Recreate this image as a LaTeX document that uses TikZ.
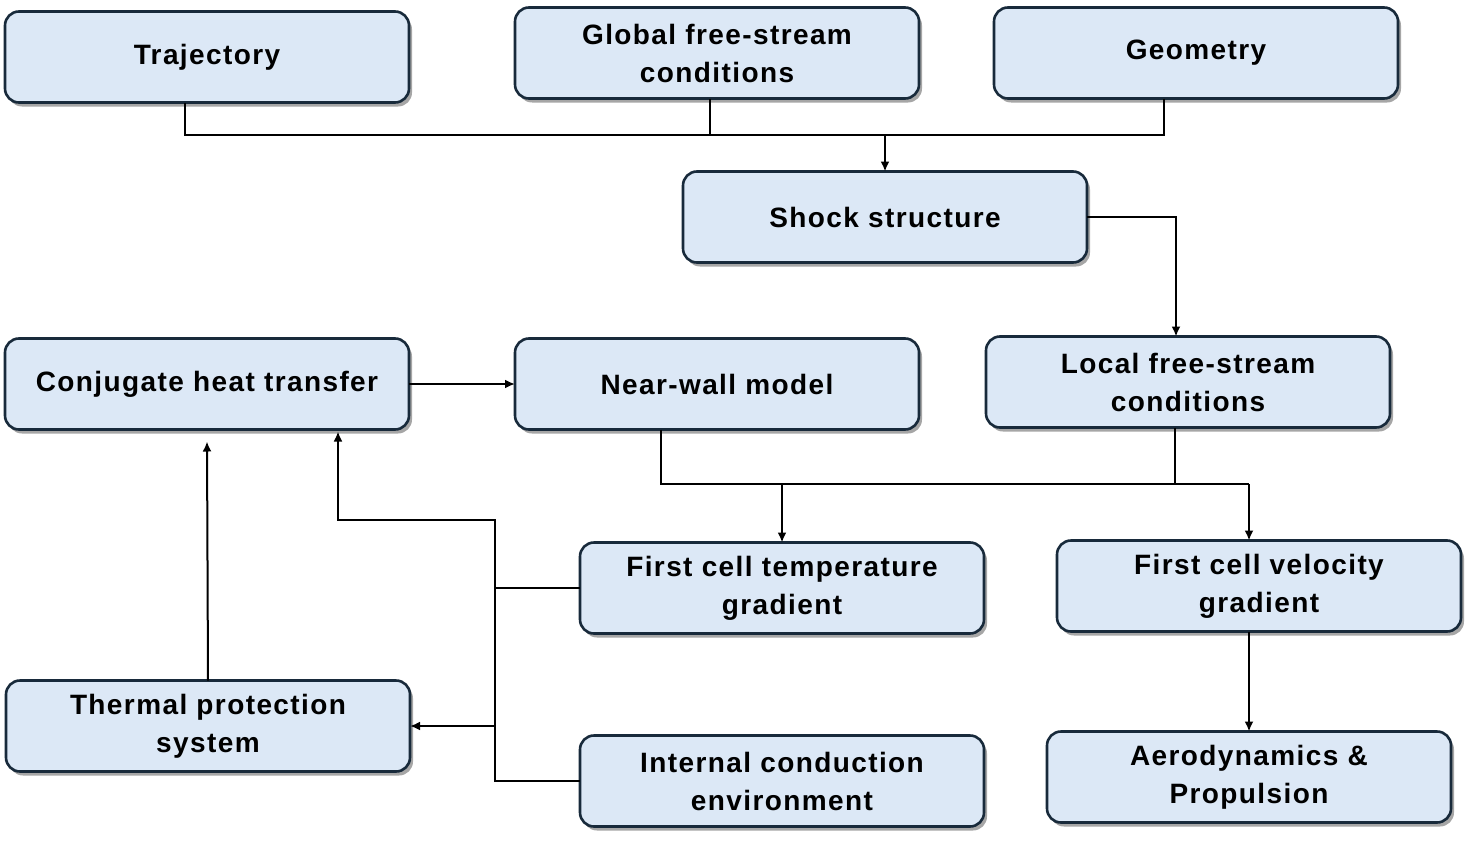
\documentclass[tikz,border=0pt]{standalone}
\usepackage{fontspec}
\setmainfont{Liberation Sans}
\newfontfamily\boxfont[LetterSpace=5]{Liberation Sans}
\usetikzlibrary{arrows.meta,shadows}
\definecolor{boxfill}{HTML}{DCE8F6}
\definecolor{boxline}{HTML}{182A3B}
\begin{document}
\begin{tikzpicture}[x=1pt,y=-1pt,
  box/.style={draw=boxline, line width=2.6pt, fill=boxfill, rounded corners=14pt,
    minimum width=404pt, minimum height=91pt, align=center, outer sep=0pt,
    font=\boxfont\fontsize{28}{38}\selectfont\bfseries,
    drop shadow={shadow xshift=3pt, shadow yshift=-4pt, fill=black, opacity=0.35}},
  conn/.style={line width=2pt, draw=black},
  arr/.style={conn, -{Latex[length=10pt,width=9pt]}}]
\useasboundingbox (0,0) rectangle (1474,851);
\node[box] (traj) at (207,57) {Trajectory};
\node[box] (glob) at (717,53) {Global free-stream\\conditions};
\node[box] (geom) at (1196,53) {Geometry};
\node[box] (shock) at (885,217) {Shock structure};
\node[box] (conj) at (207,384) {Conjugate heat transfer};
\node[box] (near) at (717,384) {Near-wall model};
\node[box] (local) at (1188,382) {Local free-stream\\conditions};
\node[box] (fct) at (782,588) {First cell temperature\\gradient};
\node[box] (fcv) at (1259,586) {First cell velocity\\gradient};
\node[box] (therm) at (208,726) {Thermal protection\\system};
\node[box] (icond) at (782,781) {Internal conduction\\environment};
\node[box] (aero) at (1249,777) {Aerodynamics \&\\Propulsion};
% top junction
\coordinate (j1) at (710,135);
\draw[conn] ([xshift=-22pt]traj.south) |- (j1);
\draw[conn] ([xshift=-7pt]glob.south) -- (j1);
\draw[conn] ([xshift=-32pt]geom.south) |- (j1);
\draw[arr] (j1 -| shock.north) -- (shock.north);
\draw[arr] (shock.east) -| ([xshift=-12pt]local.north);
\draw[arr] (conj.east) -- (near.west);
% middle junction
\coordinate (j2) at (1249,484);
\draw[conn] ([xshift=-56pt]near.south) |- (j2);
\draw[conn] ([xshift=-13pt]local.south) |- (j2);
\draw[arr] (j2) -- (fcv.north -| j2);
\draw[arr] (j2 -| fct.north) -- (fct.north);
% left bus
\coordinate (b1) at (495,520);
\coordinate (b2) at (495,782);
\draw[conn] (fct.west) -- (fct.west -| b1);
\draw[conn] (icond.west -| b2) -- (icond.west);
\draw[arr] (b2) -- (b1) -| ([xshift=131pt,yshift=-2pt]conj.south);
\draw[arr] (therm.east -| b1) -- (therm.east);
\draw[arr] (therm.north) -- ([yshift=-12pt]conj.south);
\draw[arr] (fcv.south -| aero.north) -- (aero.north);
\end{tikzpicture}
\end{document}
